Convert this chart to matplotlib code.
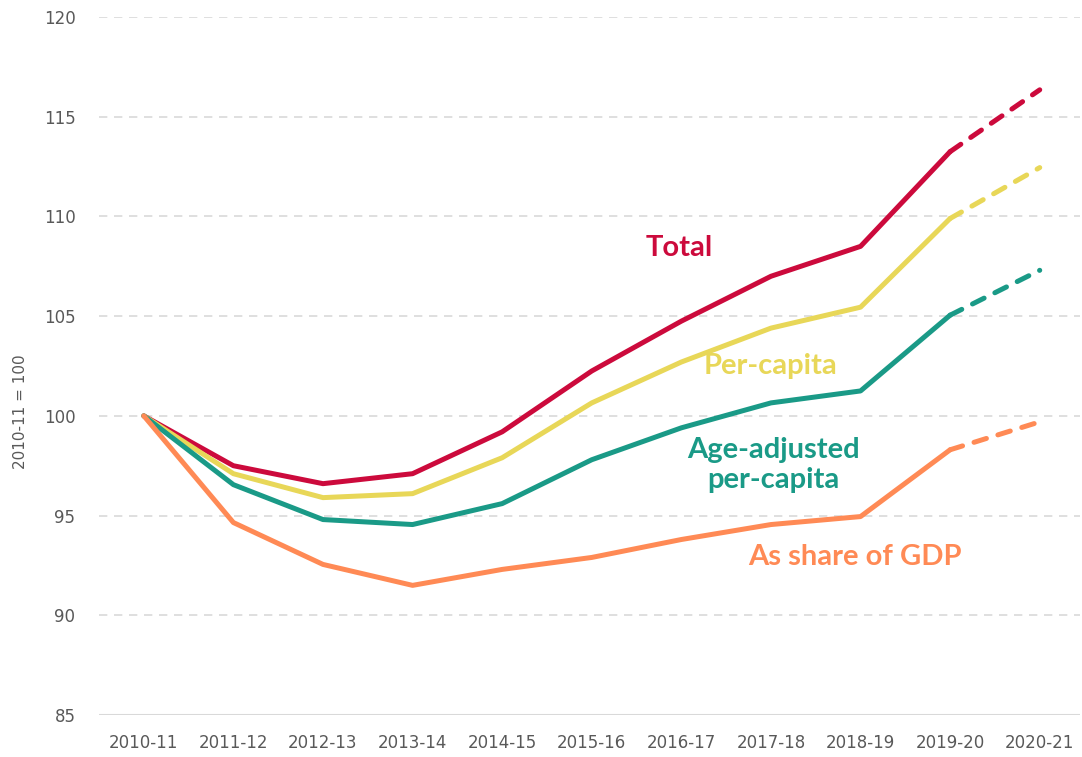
import matplotlib
matplotlib.use('Agg')
import matplotlib.pyplot as plt

# data (index, 2010-11 = 100)
years = ['2010-11', '2011-12', '2012-13', '2013-14', '2014-15', '2015-16',
         '2016-17', '2017-18', '2018-19', '2019-20', '2020-21']
total = [100, 97.5, 96.6, 97.1, 99.2, 102.25, 104.75, 107.0, 108.5, 113.25, 116.35]
per_capita = [100, 97.1, 95.9, 96.1, 97.9, 100.65, 102.7, 104.4, 105.45, 109.9, 112.45]
age_adjusted = [100, 96.55, 94.8, 94.55, 95.6, 97.8, 99.4, 100.65, 101.25, 105.05, 107.3]
gdp_share = [100, 94.65, 92.55, 91.5, 92.3, 92.9, 93.8, 94.55, 94.95, 98.3, 99.7]
yticks = [85, 90, 95, 100, 105, 110, 115, 120]

series = [
    (total, '#CC0A3C', 'Total', 5.98, 108.4),
    (per_capita, '#E8D758', 'Per-capita', 6.99, 102.5),
    (age_adjusted, '#1A9A87', 'Age-adjusted\nper-capita', 7.03, 97.55),
    (gdp_share, '#FF8A55', 'As share of GDP', 7.94, 92.9),
]

fig = plt.figure(figsize=(10.82, 7.57), dpi=100)
ax = fig.add_axes([0.0915, 0.0555, 0.9067, 0.922])

x = list(range(len(years)))
n_solid = 10  # last point is a projection, drawn dashed
for vals, col, label, lx, ly in series:
    ax.plot(x[:n_solid], vals[:n_solid], color=col, lw=3.6,
            solid_capstyle='round', solid_joinstyle='round', zorder=3)
    ax.plot(x[n_solid - 1:], vals[n_solid - 1:], color=col, lw=3.6,
            linestyle=(0, (2.6, 2.4)), dash_capstyle='round', zorder=3)
    ax.text(lx, ly, label, color=col, fontsize=21, fontweight='bold',
            ha='center', va='center', family='Lato', linespacing=1.2)

ax.set_xlim(-0.5, 10.45)
ax.set_ylim(85, 120)
ax.set_yticks(yticks)
ax.set_xticks(x)
ax.set_xticklabels(years)

for yv in yticks[1:]:
    ax.axhline(yv, color='#D9D9D9', lw=1.2, linestyle=(0, (5, 4)), zorder=1)
ax.axhline(85, color='#D9D9D9', lw=1.5, zorder=1)

for s in ax.spines.values():
    s.set_visible(False)
ax.tick_params(axis='both', length=0, labelsize=12, labelcolor='#595959')
ax.tick_params(axis='y', pad=17)
ax.tick_params(axis='x', pad=14)
for t in ax.get_xticklabels() + ax.get_yticklabels():
    t.set_family('DejaVu Sans')

fig.text(0.019, 0.456, '2010-11 = 100', rotation=90, ha='center', va='center',
         fontsize=11, color='#595959', family='DejaVu Sans')

fig.savefig('out.png', dpi=100)
